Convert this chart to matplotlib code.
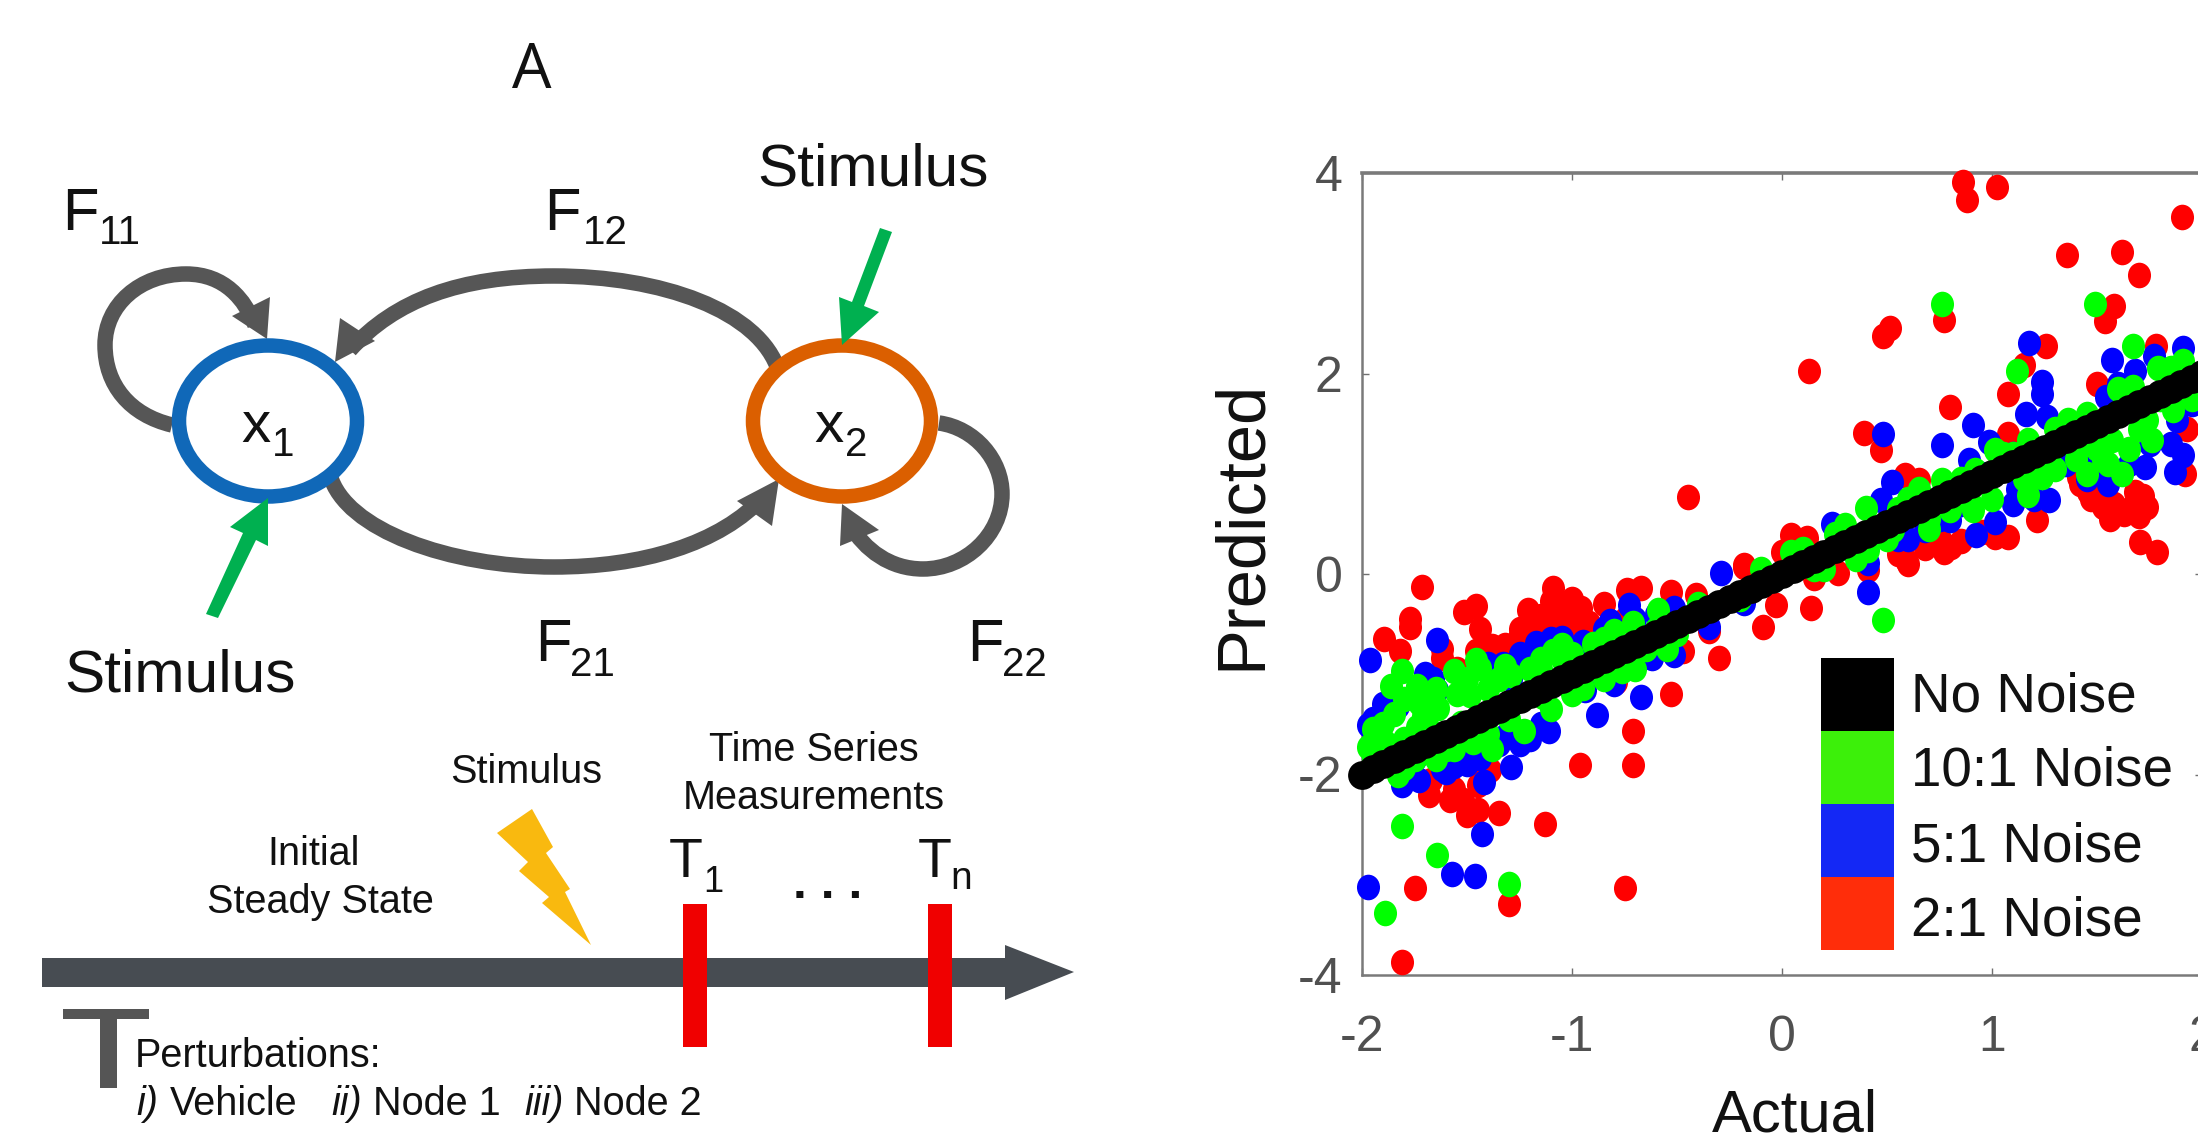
import matplotlib
matplotlib.use("Agg")
import matplotlib.pyplot as plt
from matplotlib.path import Path
from matplotlib.patches import PathPatch, Polygon, Rectangle, Ellipse
from matplotlib.transforms import Affine2D

plt.rcParams['font.family'] = ['Liberation Sans', 'DejaVu Sans']
plt.rcParams['axes.unicode_minus'] = False

# ---------- data ----------
x_ticks = [-2, -1, 0, 1, 2]
y_ticks = [-4, -2, 0, 2, 4]
legend_labels = ['No Noise', '10:1 Noise', '5:1 Noise', '2:1 Noise']

red_actual = [0.864, 0.879, 1.024, 1.903, 1.355, 1.618, 1.70, 1.582, 1.539, 0.773, 0.515, 0.479, 0.13, 1.255, 1.782,
              1.15, 0.80, 1.076, 1.5, 0.39, 0.47, 1.93, 1.076, 0.585, 0.65, 1.92, -0.45, 1.41, 1.455, 1.53, 1.667,
              1.74, 1.68, 1.5, 1.215, 1.706, 1.788, 1.076, 1.015, 0.803, 0.773, 0.68, 0.59, 0.045, 0.12, 0.0, -0.18,
              0.15, 0.267, 0.41, -1.712, -1.515, -1.455, -1.44, -1.77, -1.77, -1.894, -1.82, -1.09, -1.10, -1.21,
              -0.955, -0.92, -0.74, -0.67, -0.53, -0.41, -0.18, 0.136, -0.09, -0.03, -0.30, -0.53, -0.71, -0.71,
              -0.96, -1.39, -1.56, -1.67, -1.5, -1.45, -1.35, -1.13, -1.75, -0.75, -1.3, -1.81, -1.32, -1.2, -1.455,
              -1.62, -1.11, -1.0, -0.47, -0.35, -0.79, -1.25, -1.05, -1.15, -0.85, -0.75, -1.52, -1.25,
              -1.62, -1.55, -1.25, -1.15, -1.05, -0.95, -0.9, -1.0, -0.8, -1.45, -1.38, -1.68, -1.58, -1.42, -1.45,
              1.42, 1.47, 1.52, 1.58, 1.63, 1.7, 1.72, 1.56, 0.75, 0.85, 0.95, 0.6, 0.55]
red_predicted = [3.91, 3.73, 3.86, 3.56, 3.18, 3.215, 2.98, 2.67, 2.52, 2.53, 2.45, 2.37, 2.02, 2.27, 2.27,
                 2.08, 1.67, 1.80, 1.90, 1.41, 1.24, 1.45, 1.40, 0.99, 0.94, 1.0, 0.77, 0.97, 0.82, 0.67, 0.67,
                 0.67, 0.82, 0.85, 0.54, 0.32, 0.22, 0.37, 0.37, 0.27, 0.22, 0.26, 0.14, 0.39, 0.36, 0.22, 0.09,
                 -0.04, 0.01, 0.04, -0.127, -0.38, -0.32, -0.55, -0.53, -0.45, -0.65, -0.77, -0.14, -0.27, -0.36,
                 -0.34, -0.49, -0.16, -0.14, -0.18, -0.21, 0.07, -0.34, -0.53, -0.31, -0.84, -1.2, -1.57, -1.91,
                 -1.91, -1.96, -2.14, -2.05, -2.4, -2.35, -2.38, -2.49, -3.13, -3.13, -3.29, -3.87, -0.71, -0.53, -0.77,
                 -0.84, -0.57, -0.52, -0.77, -0.57, -1.08, -0.55, -0.3, -0.42, -0.3, -0.45, -2.25, -0.6,
                 -0.75, -0.95, -0.7, -0.65, -0.42, -0.5, -0.6, -0.25, -0.7, -0.9, -0.72, -2.2, -2.25, -1.95, -2.1,
                 0.9, 0.75, 0.8, 0.7, 0.6, 0.58, 0.78, 0.55, 0.35, 0.33, 0.42, 0.1, 0.2]

blue_actual = [1.176, 1.57, 1.68, 1.77, 1.91, 1.24, 1.24, 1.16, 1.26, 1.545, 0.91, 0.76, 0.985, 0.89, 0.48, 1.88,
               1.91, 1.87, 1.73, 1.41, 1.49, 0.524, 0.47, 1.27, 1.12, 0.24, 1.015, 0.924, 0.68, 0.80, 0.41, 0.41,
               -0.29, -0.18, -1.96, -1.645, -1.97, -1.86, -1.83, -1.66, -1.645, -1.33, -1.29, -1.17, -1.05, -0.95,
               -0.82, -0.73, -0.515, -0.515, -0.62, -0.67, -0.88, -0.94, -1.11, -1.32, -1.29, -1.42, -1.44, -1.56,
               -1.73, -1.81, -1.43, -1.57, -1.46, -1.97, -0.35, 1.6, 1.7, 0.6, -1.5, -1.6, -1.2,
               -1.75, -1.62, -1.55, -1.5, -1.95, -1.9, -1.7, -1.4, -1.25, -1.1, -0.85, -0.7, -0.6, -0.65, -0.8, -1.15,
               -1.35, -1.25, 1.35, 1.45, 1.55, 1.65, 1.75, 1.85, 1.95, 1.05, 0.95, 1.1, 0.85, 0.75, 1.1, 1.2, 0.55,
               0.6, 0.3]
blue_predicted = [2.30, 2.13, 2.02, 2.17, 2.25, 1.92, 1.80, 1.60, 1.57, 1.77, 1.49, 1.29, 1.32, 1.14, 1.40, 1.54,
                  1.19, 1.02, 1.07, 1.2, 1.05, 0.92, 0.74, 0.74, 0.85, 0.5, 0.52, 0.39, 0.44, 0.54, 0.11, -0.18,
                  0.01, -0.29, -0.86, -0.66, -1.51, -1.38, -1.32, -1.05, -1.16, -0.9, -1.05, -0.69, -0.64, -0.68,
                  -0.47, -0.31, -0.34, -0.81, -0.84, -1.23, -1.41, -1.16, -1.57, -1.62, -1.93, -2.07, -1.84, -1.92,
                  -2.05, -2.1, -2.59, -2.99, -3.01, -3.12, -0.53, 1.9, 1.6, 0.35, -1.9, -1.98, -1.65,
                  -1.85, -1.95, -1.8, -1.85, -1.45, -1.3, -1.0, -0.9, -0.8, -0.65, -0.55, -0.45, -0.4, -0.8, -1.1, -1.5,
                  -1.7, -1.7, 1.1, 0.95, 0.9, 1.1, 1.3, 1.3, 1.7, 1.1, 1.0, 1.2, 0.7, 0.55, 0.7, 0.75, 0.35,
                  0.6, 0.3]

green_actual = [0.76, 1.49, 1.67, 1.91, 1.79, 1.12, 1.67, 1.36, 1.57, 1.76, 1.74, 1.86, 1.62, 1.17, 1.24, 0.76, 0.40,
                0.30, 0.53, 0.80, 0.91, 0.41, 0.045, 0.479, 0.92, 1.015, 1.17, 1.53, -1.81, -1.645, -1.3, -1.89, -1.97,
                -1.89, -1.86, -1.81, -1.74, -1.73, -1.64, -1.56, -1.455, -1.44, -1.485, -1.32, -1.29, -1.74, -1.71,
                -1.53, -1.23, -1.14, -1.09, -1.05, -1.17, -0.95, -0.76, -0.59, -0.71, -1.8, -1.83, -1.56, -1.47, -0.8,
                -0.65, -1.4, -1.3, -1.0, -0.85, -0.5, -0.4, -0.2, -0.1, 0.15, 0.25, 0.6, 0.7, 1.05, 1.3, 1.45, 1.85,
                -1.95, -1.65, -1.15,
                -1.95, -1.9, -1.85, -1.8, -1.8, -1.75, -1.7, -1.68, -1.65, -1.6, -1.55, -1.5, -1.45, -1.4, -1.38, -1.35,
                -1.25, -1.2, -1.15, -1.1, -1.05, -1.0, -0.9, -0.85, -0.7, -0.6, -0.55,
                0.1, 0.2, 0.35, 0.5, 0.55, 0.65, 0.7, 0.85, 0.9, 1.0, 1.1, 1.15, 1.25, 1.3, 1.4, 1.45, 1.5, 1.55, 1.6,
                1.65, 1.7, 1.8, 1.85, 1.95, 1.55, 1.45]
green_predicted = [2.69, 2.69, 2.27, 2.12, 2.05, 2.02, 1.87, 1.54, 1.34, 1.34, 1.54, 1.64, 1.0, 0.79, 0.97, 0.94, 0.66,
                   0.49, 0.44, 0.64, 0.64, 0.24, 0.22, -0.46, 1.04, 1.24, 1.34, 1.14, -2.51, -2.80, -3.09, -3.38, -1.73,
                   -1.68, -1.12, -0.97, -1.12, -1.29, -1.34, -0.97, -0.86, -0.94, -1.21, -0.92, -1.01, -1.53, -1.42,
                   -1.49, -1.57, -1.23, -0.77, -0.71, -0.94, -1.14, -0.97, -0.36, -0.49, -1.94, -2.0, -1.75, -1.68, -0.57,
                   -0.75, -1.6, -1.45, -0.8, -0.65, -0.6, -0.3, -0.25, 0.05, 0.05, 0.4, 0.75, 0.55, 1.2, 1.05, 1.3, 1.95,
                   -1.55, -1.85, -0.95,
                   -1.85, -1.5, -1.4, -1.25, -1.65, -1.85, -1.2, -1.55, -1.15, -1.75, -1.2, -1.05, -1.5, -1.15, -1.75, -1.05,
                   -1.25, -0.95, -0.85, -1.35, -0.85, -1.2, -0.7, -1.05, -0.95, -0.55, -0.75,
                   0.25, 0.05, 0.15, 0.35, 0.65, 0.85, 0.45, 0.95, 0.7, 0.75, 1.2, 0.95, 1.2, 1.45, 1.15, 1.6, 1.25, 1.55,
                   1.85, 1.25, 1.45, 1.75, 2.05, 1.75, 1.1, 1.0]

black_actual = [-2.0, -1.95, -1.9, -1.85, -1.8, -1.75, -1.7, -1.65, -1.6, -1.55, -1.5, -1.45, -1.4, -1.35, -1.3, -1.25,
                -1.2, -1.15, -1.1, -1.05, -1.0, -0.95, -0.9, -0.85, -0.8, -0.75, -0.7, -0.65, -0.6, -0.55, -0.5, -0.45,
                -0.4, -0.35, -0.3, -0.25, -0.2, -0.15, -0.1, -0.05, 0.0, 0.05, 0.1, 0.15, 0.2, 0.25, 0.3, 0.35, 0.4,
                0.45, 0.5, 0.55, 0.6, 0.65, 0.7, 0.75, 0.8, 0.85, 0.9, 0.95, 1.0, 1.05, 1.1, 1.15, 1.2, 1.25, 1.3,
                1.35, 1.4, 1.45, 1.5, 1.55, 1.6, 1.65, 1.7, 1.75, 1.8, 1.85, 1.9, 1.95, 2.0]
black_predicted = [-2.0, -1.95, -1.9, -1.85, -1.8, -1.75, -1.7, -1.65, -1.6, -1.55, -1.5, -1.45, -1.4, -1.35, -1.3, -1.25,
                   -1.2, -1.15, -1.1, -1.05, -1.0, -0.95, -0.9, -0.85, -0.8, -0.75, -0.7, -0.65, -0.6, -0.55, -0.5, -0.45,
                   -0.4, -0.35, -0.3, -0.25, -0.2, -0.15, -0.1, -0.05, 0.0, 0.05, 0.1, 0.15, 0.2, 0.25, 0.3, 0.35, 0.4,
                   0.45, 0.5, 0.55, 0.6, 0.65, 0.7, 0.75, 0.8, 0.85, 0.9, 0.95, 1.0, 1.05, 1.1, 1.15, 1.2, 1.25, 1.3,
                   1.35, 1.4, 1.45, 1.5, 1.55, 1.6, 1.65, 1.7, 1.75, 1.8, 1.85, 1.9, 1.95, 2.0]

# ---------- figure ----------
W, H = 2198, 1142
fig = plt.figure(figsize=(W / 100, H / 100), dpi=100, facecolor='white')

# scatter panel (its right edge runs off the canvas, as in the reference)
ax = fig.add_axes([1362 / W, 1 - 975 / H, 840 / W, 802 / H])
dot = Path.unit_circle().transformed(Affine2D().scale(0.9, 1.0))
for xs, ys, c, s, m in [(red_actual, red_predicted, '#ff0000', 340, dot),
                        (blue_actual, blue_predicted, '#0000ff', 340, dot),
                        (green_actual, green_predicted, '#00ff00', 340, dot),
                        (black_actual, black_predicted, '#000000', 430, 'o')]:
    ax.scatter(xs, ys, s=s, c=c, marker=m, linewidths=0, clip_on=False, zorder=3)
ax.set_xlim(-2, 2)
ax.set_ylim(-4, 4)
ax.set_xticks(x_ticks)
ax.set_yticks(y_ticks)
ax.tick_params(axis='x', direction='in', length=5, width=1, color='#707070', top=True,
               labelsize=36, labelcolor='#505050', pad=29)
ax.tick_params(axis='y', direction='in', length=5, width=1, color='#707070', right=True,
               labelsize=36, labelcolor='#505050', pad=14)
for side, sp in ax.spines.items():
    sp.set_color('#7a7a7a')
    sp.set_linewidth(2.6 if side == 'top' else 1.8)
ax.set_xlabel('Actual', fontsize=43, color='#111111')
ax.xaxis.set_label_coords(0.515, -0.141)
ax.set_ylabel('Predicted', fontsize=49.5, color='#111111')
ax.yaxis.set_label_coords(-0.105, 0.561)

# overlay in reference pixels for the schematic and legend swatches
ov = fig.add_axes([0, 0, 1, 1], facecolor='none', zorder=5)
ov.set_xlim(0, W)
ov.set_ylim(H, 0)
ov.axis('off')
PX = 0.72  # points per pixel


def label(x, y, s, size, **kw):
    kw.setdefault('color', '#111111')
    ov.text(x, y, s, fontsize=size, ha=kw.pop('ha', 'left'), va='baseline', **kw)


def curved(points, lw, head, color='#565656'):
    codes = [Path.MOVETO] + [Path.CURVE4] * (len(points) - 1)
    ov.add_patch(PathPatch(Path(points, codes), fc='none', ec=color, lw=lw * PX, capstyle='butt', zorder=2))
    ov.add_patch(Polygon(head, closed=True, fc=color, ec='none', zorder=3))


# legend
swatches = ['#000000', '#3cf00a', '#1428f5', '#ff2d0a']
baselines = [711, 786, 862, 936]
for i, (name, col, base) in enumerate(zip(legend_labels, swatches, baselines)):
    ov.add_patch(Rectangle((1821, 658 + 73 * i), 73, 73, fc=col, ec='none'))
    label(1911, base, name, 39.5)

# panel letter
ov.text(532, 88, 'A', fontsize=45, family='Open Sans', ha='center', va='baseline', color='#111111')

# node rings
ov.add_patch(Ellipse((268, 421), 178, 151, fc='white', ec='#1068b8', lw=14.5 * PX, zorder=4))
ov.add_patch(Ellipse((842, 421), 178, 151, fc='white', ec='#db5f00', lw=14.5 * PX, zorder=4))

# feedback arrows
curved([(172, 425), (130, 415), (105, 385), (105, 345), (105, 305), (140, 274), (186, 274),
        (225, 274), (245, 300), (255, 325)], 15.5, [(267, 339), (270, 297), (232, 316)])
curved([(779, 372), (760, 310), (660, 276), (554, 276), (460, 276), (395, 300), (350, 350)], 15.5,
       [(335, 362), (340, 318), (375, 341)])
curved([(330, 475), (345, 530), (450, 567), (554, 567), (640, 567), (720, 545), (765, 495)], 15.5,
       [(779, 479), (737, 501), (772, 526)])
curved([(939, 423), (975, 428), (1002, 460), (1002, 494), (1002, 535), (965, 569), (923, 569),
        (890, 569), (865, 550), (850, 525)], 15.5, [(842, 504), (840, 546), (879, 530)])

# stimulus arrows
ov.add_patch(Polygon([(880, 228), (892, 232), (864, 306), (879, 312), (842, 345), (839, 297), (852, 302)],
                     closed=True, fc='#00b050', ec='none', zorder=5))
ov.add_patch(Polygon([(206, 614), (218, 618), (256, 540), (268, 546), (268, 498), (230, 527), (243, 533)],
                     closed=True, fc='#00b050', ec='none', zorder=5))

# schematic text
label(757, 186, 'Stimulus', 43.5)
label(64, 691, 'Stimulus', 43.5)
for fx, fy, sx, sy, sub in [(62, 230, 99, 244, '11'), (544, 230, 583, 244, '12'),
                            (535, 661, 570, 676, '21'), (967, 661, 1002, 676, '22')]:
    label(fx, fy, 'F', 43)
    label(sx, sy, sub, 29)
label(241, 442, 'x', 42, zorder=6)
label(272, 456, '1', 29, zorder=6)
label(814, 442, 'x', 42, zorder=6)
label(845, 456, '2', 29, zorder=6)

# timeline
ov.add_patch(Polygon([(42, 958), (1005, 958), (1005, 945), (1074, 972), (1005, 1000), (1005, 987), (42, 987)],
                     closed=True, fc='#474c52', ec='none', zorder=2))
for x0 in (683, 928):
    ov.add_patch(Rectangle((x0, 904), 24, 143, fc='#f00000', ec='none', zorder=3))
ov.add_patch(Polygon([(63, 1009), (149, 1009), (149, 1019), (117, 1019), (117, 1088), (100, 1088), (100, 1019), (63, 1019)],
                     closed=True, fc='#555555', ec='none'))
ov.add_patch(Polygon([(532, 809), (497, 833), (528, 862), (519, 871), (549, 897), (542, 903), (591, 945),
                      (565, 892), (570, 889), (546, 853), (553, 847)], closed=True, fc='#f9b90f', ec='none'))

label(526, 783, 'Stimulus', 28.5, ha='center')
label(814, 761, 'Time Series', 28.5, ha='center')
label(814, 809, 'Measurements', 28.5, ha='center')
label(314, 865, 'Initial', 28.5, ha='center')
label(320, 913, 'Steady State', 28.5, ha='center')
label(669, 877, 'T', 40)
label(703, 892, '1', 26)
label(918, 877, 'T', 40)
label(950, 889, 'n', 28)
label(828, 898, '. . .', 36, ha='center', weight='bold')
label(135, 1067, 'Perturbations:', 28.5)
label(136, 1115, 'i)', 28.5, style='italic')
label(170, 1115, 'Vehicle', 28.5)
label(331, 1115, 'ii)', 28.5, style='italic')
label(373, 1115, 'Node 1', 28.5)
label(524, 1115, 'iii)', 28.5, style='italic')
label(574, 1115, 'Node 2', 28.5)

fig.savefig('out.png', dpi=100)
